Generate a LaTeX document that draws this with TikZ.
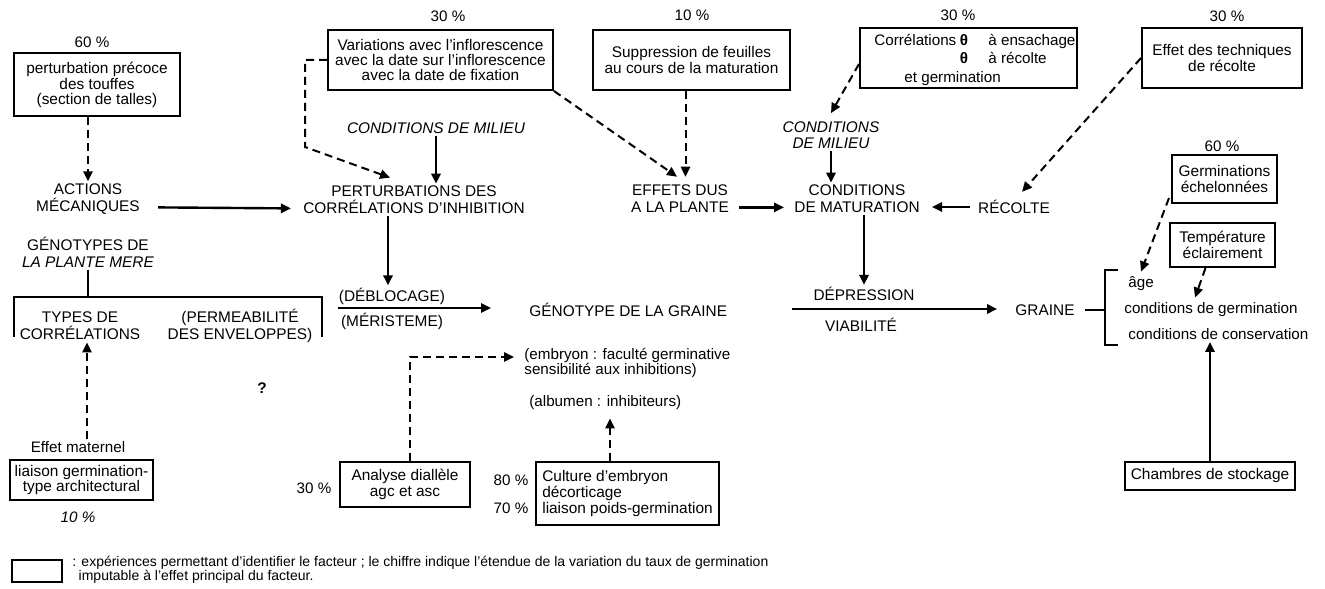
\documentclass[tikz,border=0pt]{standalone}
\usepackage{fontspec}
\setmainfont{Liberation Sans}
\usetikzlibrary{arrows.meta,calc}
\begin{document}
\begin{tikzpicture}[x=0.5pt,y=-0.5pt,
 lab/.style={inner sep=1pt, align=center, font=\fontsize{7.7}{8.5}\selectfont},
 txt/.style={inner sep=1pt, font=\fontsize{7.6}{8}\selectfont},
 box/.style={draw, line width=1pt, inner sep=0pt, align=center, font=\fontsize{7.7}{7.7}\selectfont},
 ar/.style={line width=1.2pt, -{Triangle[length=5pt,width=4.6pt]}},
 dar/.style={line width=1pt, dash pattern=on 4pt off 2.5pt, -{Triangle[length=5pt,width=4.6pt]}},
 ln/.style={line width=1.2pt}]
\useasboundingbox (0,0) rectangle (1325,588);
\coordinate (x87) at (87,0);
\coordinate (x388) at (388,0);
\coordinate (x410) at (410,0);
\coordinate (x610) at (610,0);

% ---- left column
\node[txt] (p60a) at (92,42) {60 \%};
\node[box, minimum width=83pt, minimum height=31.5pt] (b1) at (97,85) {perturbation précoce\\des touffes\\(section de talles)};
\node[lab] (act) at (88,199) {ACTIONS\\MÉCANIQUES};
\draw[dar] (b1.south -| act.north) -- (act.north);
\node[lab] (pert) at (414,200) {PERTURBATIONS DES\\CORRÉLATIONS D’INHIBITION};
\draw[ar] ([xshift=8pt,yshift=-4.2pt]act.east) -- ([xshift=-5pt,yshift=-4.2pt]pert.west);
\node[lab] (gen) at (88,252) {GÉNOTYPES DE\\\textit{LA PLANTE MERE}};
\coordinate (brj) at (88,297);
\coordinate (brl) at (14,337);
\coordinate (brr) at (322,337);
\draw[ln] (gen.south) -- (brj);
\draw[ln] (brl) |- (brj) -| (brr);
\node[lab] (typ) at (80,326) {TYPES DE\\CORRÉLATIONS};
\node[lab] (perm) at (240,326) {(PERMEABILITÉ\\DES ENVELOPPES)};
\node[txt] (effm) at (78,447) {Effet maternel};
\draw[dar] (effm.north -| x87) -- (typ.south -| x87);
\node[box, minimum width=71.5pt, minimum height=20pt] (blia) at (81.5,480) {liaison germination-\\type architectural};
\node[txt] (p10b) at (78,517) {\textit{10 \%}};
\node[lab] (q) at (262,388) {\textbf{?}};

% ---- top middle
\node[txt] (p30a) at (448,16) {30 \%};
\node[box, minimum width=112.5pt, minimum height=30pt] (bvar) at (440.5,60) {Variations avec l’inflorescence\\avec la date sur l’inflorescence\\avec la date de fixation};
\coordinate (vc) at (305,147);
\draw[dar] (bvar.west) -| (vc) -- ([xshift=-12pt,yshift=3pt]pert.north);
\node[lab, font=\fontsize{7.7}{8.5}\selectfont\itshape] (cm1) at (436,128) {CONDITIONS DE MILIEU};
\draw[ar] (cm1.south) -- (cm1.south |- pert.north);
\node[lab] (eff) at (680,199) {EFFETS DUS\\A LA PLANTE};
\draw[dar] (bvar.south east) -- ([xshift=-1.5pt,yshift=3pt]eff.north);
\node[txt] (p10a) at (692,15) {10 \%};
\node[box, minimum width=98.5pt, minimum height=30pt] (bsup) at (691.5,60) {Suppression de feuilles\\au cours de la maturation};
\coordinate (sd) at ([xshift=-3pt]bsup.south);
\draw[dar] (sd) -- ($(sd |- eff.north)+(0,-6)$);
\node[lab] (mat) at (857,199) {CONDITIONS\\DE MATURATION};
\draw[ar] ([xshift=4pt,yshift=-4.2pt]eff.east) -- ([xshift=-4pt,yshift=-4.2pt]mat.west);

% ---- top right
\node[txt] (p30b) at (958,15) {30 \%};
\node[box, minimum width=108.5pt, minimum height=30pt] (bcorr) at (968.5,58) {};
\node[txt, anchor=base west] (c1) at (872,46) {Corrélations};
\node[txt, anchor=base] (th1) at (964,46) {\textbf{θ}};
\node[txt, anchor=base west] (ens) at (986,46) {à ensachage};
\node[txt, anchor=base] (th2) at (964,64) {\textbf{θ}};
\node[txt, anchor=base west] (rec2) at (986,64) {à récolte};
\node[txt, anchor=base west] (etg) at (902,83) {et germination};
\node[lab, font=\fontsize{7.7}{8}\selectfont\itshape] (cm2) at (831,135) {CONDITIONS\\DE MILIEU};
\draw[dar] ([yshift=-3pt]bcorr.west) -- ([yshift=3pt]cm2.north);
\draw[ar] (cm2.south) -- (cm2.south |- mat.north);
\node[lab] (rec) at (1014,207) {RÉCOLTE};
\draw[ar] ($(rec.west)+(-6,0)$) -- ($(rec.west -| mat.east)+(10,0)$);
\node[txt] (p30c) at (1227,16) {30 \%};
\node[box, minimum width=80pt, minimum height=30pt] (beff) at (1222,58) {Effet des techniques\\de récolte};
\draw[dar] (beff.west) -- ($(rec.north)+(8,-6)$);

\node[txt] (p60b) at (1222,146) {60 \%};
\node[box, minimum width=52.5pt, minimum height=24pt] (bgerm) at (1224.5,179) {Germinations\\échelonnées};
\node[box, minimum width=52.5pt, minimum height=22pt] (btemp) at (1222.5,245) {Température\\éclairement};
\node[txt, anchor=west] (age) at (1126,284) {âge};
\node[txt, anchor=west] (cgerm) at (1122,310) {conditions de germination};
\node[txt, anchor=west] (ccons) at (1126,334) {conditions de conservation};
\draw[dar] ($(bgerm.south west)+(-2,-6)$) -- ($(age.north)+(0,-3)$);
\draw[dar] ($(btemp.south)+(-17,0)$) -- ($(cgerm.north)+(-16,-3)$);

\node[lab] (dep) at (864,294) {DÉPRESSION};
\node[lab] (via) at (861,325) {VIABILITÉ};
\draw[ar] (mat.south -| dep.north) -- (dep.north);
\coordinate (dl) at (792,309);
\node[lab] (gra) at (1045,310) {GRAINE};
\draw[ar] (dl) -- ($(gra.west)+(-16,-1)$);
\coordinate (bt) at (1118,270);
\coordinate (bb) at (1118,345);
\coordinate (bm) at (1105,310);
\draw[ln] (bt) -| (bm) |- (bb);
\draw[ln] ($(gra.east)+(8,0)$) -- (bm);
\node[box, minimum width=85pt, minimum height=14pt] (bcham) at (1210,476) {Chambres de stockage};
\draw[ar] (bcham.north) -- (bcham.north |- ccons.south);

% ---- bottom middle
\node[lab] (deb) at (392,296) {(DÉBLOCAGE)};
\node[lab] (mer) at (392,321) {(MÉRISTEME)};
\draw[ar] (pert.south -| x388) -- (deb.north -| x388);
\coordinate (dbl) at (338,308);
\node[lab, anchor=west] (gg) at (527,310) {GÉNOTYPE DE LA GRAINE};
\draw[ar] (dbl) -- ($(gg.west)+(-36,-2)$);
\node[txt, anchor=west] (emb1) at (522,355) {(embryon : faculté germinative};
\node[txt, anchor=west] (emb2) at (522,370) {sensibilité aux inhibitions)};
\node[txt, anchor=west] (alb) at (527,403) {(albumen : inhibiteurs)};
\node[box, minimum width=65pt, minimum height=22.5pt] (bana) at (405,484.5) {Analyse diallèle\\agc et asc};
\draw[dar] (bana.north -| x410) |- ($(emb1.west)+(-8,2)$);
\node[txt] (p30d) at (314,488) {30 \%};
\node[box, align=left, inner xsep=3pt, minimum width=90.5pt, minimum height=31.5pt, font=\fontsize{7.7}{8}\selectfont] (bcul) at (627.5,493.5) {Culture d’embryon\\décorticage\\liaison poids-germination};
\draw[dar] (bcul.north -| x610) -- ($(alb.south -| x610)+(0,6)$);
\node[txt] (p80) at (511,480) {80 \%};
\node[txt] (p70) at (511,508) {70 \%};

% ---- legend
\node[draw, line width=1pt, minimum width=25pt, minimum height=11pt, inner sep=0pt] (leg) at (37,571) {};
\node[txt, anchor=west, align=left, font=\fontsize{7}{7}\selectfont] (legt) at (70,570) {: expériences permettant d’identifier le facteur ; le chiffre indique l’étendue de la variation du taux de germination\\\hspace{0.45em}imputable à l’effet principal du facteur.};
\end{tikzpicture}
\end{document}
